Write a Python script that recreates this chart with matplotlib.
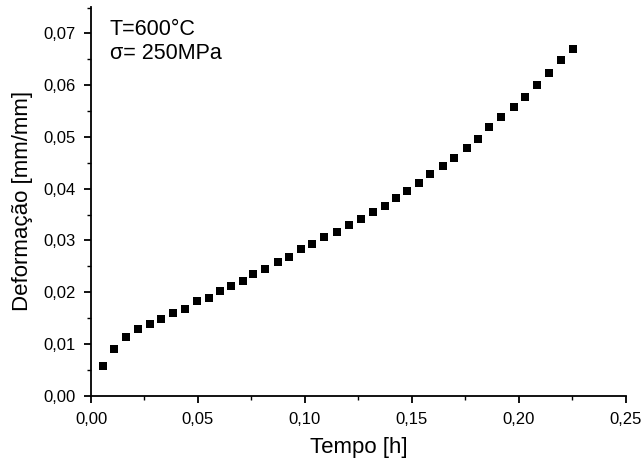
import matplotlib
matplotlib.use("Agg")
import matplotlib.pyplot as plt
from matplotlib.ticker import FixedLocator, MultipleLocator

tempo = [0.00547, 0.01075, 0.01636, 0.02212, 0.02759, 0.03287, 0.03848, 0.04409,
         0.04942, 0.05503, 0.06031, 0.06560, 0.07121, 0.07588, 0.08150, 0.08757,
         0.09272, 0.09805, 0.10347, 0.10908, 0.11488, 0.12054, 0.12610, 0.13185,
         0.13723, 0.14260, 0.14789, 0.15345, 0.15873, 0.16444, 0.16986, 0.17561,
         0.18109, 0.18623, 0.19193, 0.19768, 0.20306, 0.20843, 0.21414, 0.21965,
         0.22522]
deformacao = [0.00574, 0.00908, 0.01134, 0.01283, 0.01379, 0.01476, 0.01603, 0.01681,
              0.01823, 0.01893, 0.02022, 0.02113, 0.02221, 0.02345, 0.02455, 0.02588,
              0.02685, 0.02834, 0.02924, 0.03066, 0.03166, 0.03307, 0.03409, 0.03554,
              0.03668, 0.03825, 0.03964, 0.04103, 0.04279, 0.04447, 0.04595, 0.04777,
              0.04964, 0.05184, 0.05380, 0.05582, 0.05779, 0.06002, 0.06239, 0.06479,
              0.06693]

xticks = [0.00, 0.05, 0.10, 0.15, 0.20, 0.25]
xticklabels = ["0,00", "0,05", "0,10", "0,15", "0,20", "0,25"]
yticks = [0.00, 0.01, 0.02, 0.03, 0.04, 0.05, 0.06, 0.07]
yticklabels = ["0,00", "0,01", "0,02", "0,03", "0,04", "0,05", "0,06", "0,07"]

plt.rcParams['font.family'] = ['Liberation Sans', 'DejaVu Sans']

fig = plt.figure(figsize=(6.44, 4.63), dpi=100)
ax = fig.add_axes([91/644, 1 - 395.7/463, (625.7-91)/644, (395.7-7)/463])

ax.plot(tempo, deformacao, linestyle='none', marker='s', markersize=6.2,
        color='black', markeredgewidth=0)

ax.set_xlim(0, 0.25)
ax.set_ylim(0, 0.0751)

ax.spines['top'].set_visible(False)
ax.spines['right'].set_visible(False)
for s in ('left', 'bottom'):
    ax.spines[s].set_linewidth(1.3)

ax.xaxis.set_major_locator(FixedLocator(xticks))
ax.set_xticklabels(xticklabels)
ax.yaxis.set_major_locator(FixedLocator(yticks))
ax.set_yticklabels(yticklabels)
ax.xaxis.set_minor_locator(MultipleLocator(0.025))
ax.yaxis.set_minor_locator(MultipleLocator(0.005))
ax.tick_params(which='major', direction='out', length=5, width=1.3, labelsize=12)
ax.tick_params(axis='x', which='major', pad=7)
ax.tick_params(axis='y', which='major', pad=6)
ax.tick_params(which='minor', direction='out', length=3, width=1.0)

ax.set_xlabel("Tempo [h]", fontsize=16)
ax.xaxis.set_label_coords(0.501, -0.105)
ax.set_ylabel("Deformação [mm/mm]", fontsize=16)
ax.yaxis.set_label_coords(-0.108, 0.5)

ax.text(0.035, 0.968, "T=600°C\nσ= 250MPa", transform=ax.transAxes,
        fontsize=15.5, va='top', ha='left', linespacing=1.15)

fig.savefig("out.png", dpi=100)
